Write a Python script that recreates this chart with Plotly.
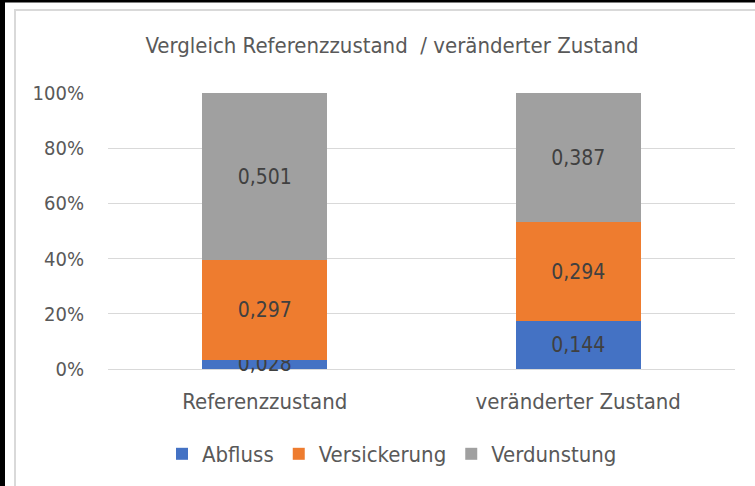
import plotly.graph_objects as go

categories = ["Referenzzustand", "veränderter Zustand"]
abfluss = [0.028, 0.144]
versickerung = [0.297, 0.294]
verdunstung = [0.501, 0.387]
series_names = ["Abfluss", "Versickerung", "Verdunstung"]
series_colors = ["#4472C4", "#EE7C2F", "#A0A0A0"]
y_ticks = [0, 20, 40, 60, 80, 100]
y_ticklabels = ["0%", "20%", "40%", "60%", "80%", "100%"]
title_text = "Vergleich Referenzzustand  / veränderter Zustand"

FONT = "DejaVu Sans Condensed, Liberation Sans Narrow, sans-serif"

def fmt(v):
    return f"{v:.3f}".replace(".", ",")

fig = go.Figure()
for name, vals, col in zip(series_names, [abfluss, versickerung, verdunstung], series_colors):
    fig.add_trace(go.Bar(
        name=name, x=categories, y=vals,
        marker=dict(color=col, line=dict(width=0)),
        text=[fmt(v) for v in vals],
        textposition="inside", insidetextanchor="middle",
        textfont=dict(family=FONT, size=21, color="#404040"),
        textangle=0, cliponaxis=False,
    ))

W, H = 755, 486
L, R, T, B = 108, 20, 93, 117
pw, ph = W - L - R, H - T - B

def px(x):
    return (x - L) / pw

def py(y):
    return (H - B - y) / ph

shapes = [
    dict(type="rect", xref="paper", yref="paper", x0=px(15), x1=px(W + 5), y0=py(10), y1=py(H + 5),
         line=dict(color="#D9D9D9", width=2), fillcolor="rgba(0,0,0,0)", layer="below"),
    dict(type="rect", xref="paper", yref="paper", x0=px(-2), x1=px(5), y0=py(-2), y1=py(H + 2),
         line=dict(width=0), fillcolor="#000000"),
    dict(type="rect", xref="paper", yref="paper", x0=px(-2), x1=px(W + 2), y0=py(-2), y1=py(2.5),
         line=dict(width=0), fillcolor="#000000"),
]

fig.update_layout(
    width=W, height=H,
    margin=dict(l=L, r=R, t=T, b=B, autoexpand=False),
    barmode="stack", barnorm="percent", bargap=0.6,
    paper_bgcolor="white", plot_bgcolor="white",
    font=dict(family=FONT, size=20, color="#595959"),
    uniformtext=dict(minsize=21, mode="show"),
    title=dict(text=title_text, x=392 / W, xanchor="center", xref="container",
               y=1 - 45 / H, yanchor="middle", yref="container",
               font=dict(family=FONT, size=22, color="#595959")),
    legend=dict(orientation="h", x=px(392), xanchor="center", y=py(454), yanchor="middle",
                font=dict(family=FONT, size=22, color="#595959"), traceorder="normal",
                bgcolor="rgba(0,0,0,0)"),
    shapes=shapes,
    showlegend=True,
)
fig.update_xaxes(showgrid=False, showline=False, zeroline=False,
                 ticks="outside", ticklen=13, tickcolor="rgba(0,0,0,0)",
                 tickfont=dict(family=FONT, size=22, color="#595959"))
fig.update_yaxes(range=[0, 100], tickvals=y_ticks, ticktext=y_ticklabels,
                 showgrid=True, gridcolor="#D9D9D9", gridwidth=1,
                 zeroline=True, zerolinecolor="#D9D9D9", zerolinewidth=1,
                 showline=False, ticks="outside", ticklen=19, tickcolor="rgba(0,0,0,0)",
                 tickfont=dict(family=FONT, size=20, color="#595959"))

fig.write_html("out.html", config={"displayModeBar": False},
               post_script="document.body.style.margin='0';document.body.style.overflow='hidden';")
